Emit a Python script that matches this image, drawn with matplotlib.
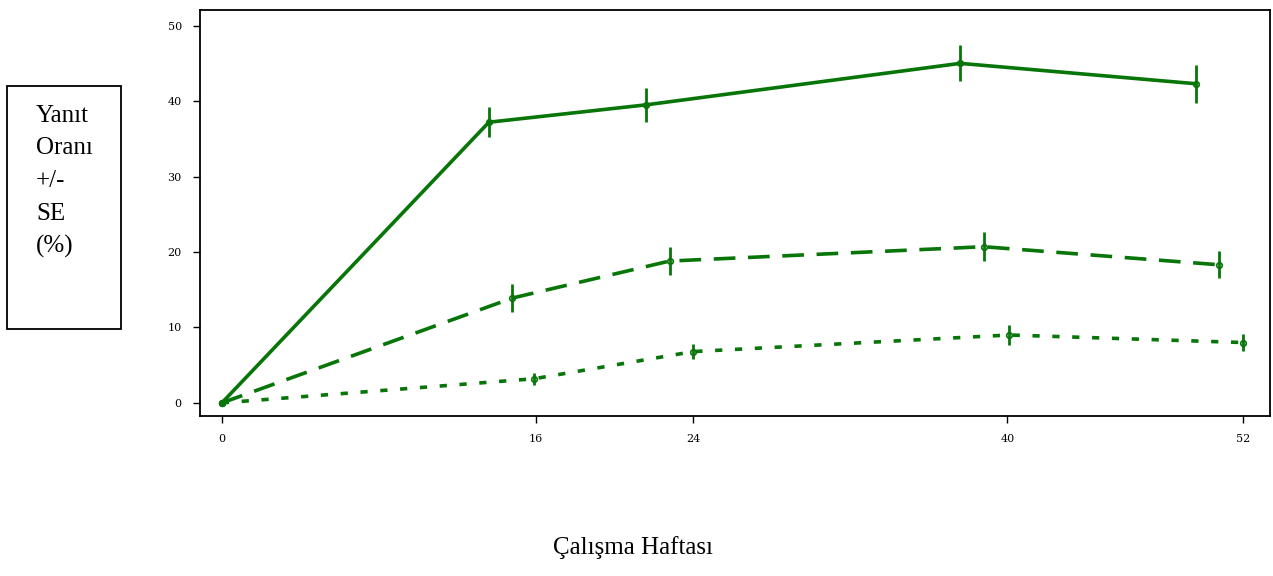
import matplotlib.pyplot as plt
from matplotlib.patches import Rectangle

# Data (study week vs response rate %)
weeks_a = [0, 13.6, 21.6, 37.6, 49.6]
rate_a = [0, 37.2, 39.5, 45.0, 42.3]
se_a = [0.3, 2.0, 2.3, 2.4, 2.5]

weeks_b = [0, 14.8, 22.8, 38.8, 50.8]
rate_b = [0, 13.9, 18.8, 20.7, 18.3]
se_b = [0.3, 1.8, 1.8, 1.9, 1.8]

weeks_c = [0, 15.9, 24.0, 40.1, 52.0]
rate_c = [0, 3.2, 6.8, 9.0, 8.0]
se_c = [0.2, 0.8, 1.0, 1.3, 1.1]

xticks = [0, 16, 24, 40, 52]
yticks = [0, 10, 20, 30, 40, 50]

GREEN = "#077507"

fig = plt.figure(figsize=(12.73, 5.76), dpi=100)
ax = fig.add_axes([0.157, 0.278, 0.841, 0.705])

series = [
    (weeks_a, rate_a, se_a, "-"),
    (weeks_b, rate_b, se_b, (0, (6, 3.5))),
    (weeks_c, rate_c, se_c, (0, (2, 3.5))),
]
for xs, ys, es, ls in series:
    ax.errorbar(xs, ys, yerr=es, color=GREEN, linestyle=ls, linewidth=2.6,
                marker="o", markersize=4, fillstyle="none", markeredgewidth=1.2,
                elinewidth=2, capsize=0)

ax.set_xlim(-1.12, 53.4)
ax.set_ylim(-1.72, 52.1)
ax.set_xticks(xticks)
ax.set_yticks(yticks)
ax.tick_params(labelsize=8, length=5, width=1, pad=8, colors="black")
for lab in ax.get_xticklabels() + ax.get_yticklabels():
    lab.set_family("DejaVu Serif")
for sp in ax.spines.values():
    sp.set_linewidth(1.3)

# Boxed y-axis label on the left
fig.patches.append(Rectangle((7 / 1273, 1 - 329 / 576), 114 / 1273, 243 / 576,
                             transform=fig.transFigure, fill=False,
                             edgecolor="black", linewidth=1.3))
ylines = ["Yanıt", "Oranı", "+/-", "SE", "(%)"]
for i, t in enumerate(ylines):
    fig.text(36 / 1273, 1 - (116 + i * 32.5) / 576, t, family="Liberation Serif",
             fontsize=18, ha="left", va="center")

fig.text(633 / 1273, 1 - 548 / 576, "Çalışma Haftası", family="Liberation Serif",
         fontsize=18, ha="center", va="center")

fig.savefig("out.png", dpi=100)
